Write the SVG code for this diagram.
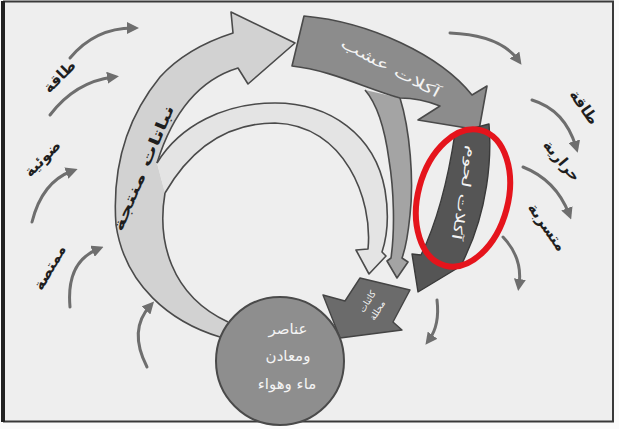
<svg xmlns="http://www.w3.org/2000/svg" width="619" height="429" viewBox="0 0 619 429">
<defs>
<style>
.lbl{font-family:"DejaVu Sans",sans-serif;font-weight:bold;font-size:15px;fill:#1e1e1e}
.band{stroke:none}
.edge{fill:none;stroke:#4a4a4a;stroke-width:1.6;stroke-linejoin:round}
.en{fill:none;stroke:#6e6e6e;stroke-width:3;stroke-linecap:round}
.wt{font-family:"DejaVu Sans",sans-serif;fill:#f4f4f4}
</style>
<marker id="ah" markerUnits="userSpaceOnUse" markerWidth="12" markerHeight="12" refX="6" refY="6" orient="auto">
<path d="M0,0 L12,6 L0,12 z" fill="#6e6e6e"/>
</marker>
</defs>
<rect x="0" y="0" width="619" height="429" fill="#fbfbfb"/>
<rect x="4" y="1.5" width="609" height="420" fill="#eeeeee" stroke="#3a3a3a" stroke-width="2"/>
<line x1="3" y1="1" x2="3" y2="422" stroke="#222" stroke-width="4"/>

<g id="connectors">
<path class="en" d="M70,58 Q95,28 133,28" marker-end="url(#ah)"/>
<path class="en" d="M50,115 Q75,82 113,77" marker-end="url(#ah)"/>
<path class="en" d="M32,222 Q42,182 72,171" marker-end="url(#ah)"/>
<path class="en" d="M70,307 Q66,262 98,249" marker-end="url(#ah)"/>
<path class="en" d="M147,367 Q128,330 150,306" marker-end="url(#ah)"/>
<path class="en" d="M450,33 Q500,35 518,60" marker-end="url(#ah)"/>
<path class="en" d="M532,100 Q565,110 576,147" marker-end="url(#ah)"/>
<path class="en" d="M523,167 Q556,180 569,214" marker-end="url(#ah)"/>
<path class="en" d="M503,237 Q523,258 519,285" marker-end="url(#ah)"/>
<path class="en" d="M437,300 Q440,325 429,340" marker-end="url(#ah)"/>
</g>

<g id="plants">
<path class="band" fill="#d2d2d2" d="M220,337 C170,322 125,285 116,225 C112,170 125,120 160,77 C180,55 205,42 233,33 L231,12 L295,43 L248,84 L238,68 C205,78 175,105 157,163 L165,193 C157,240 170,295 228,322 Z"/>
<path class="edge" d="M220,337 C170,322 125,285 116,225 C112,170 125,120 160,77 C180,55 205,42 233,33 L231,12 L295,43 L248,84 L238,68 C205,78 175,105 157,163"/>
<path class="edge" d="M165,193 C157,240 170,295 228,322"/>
<text class="lbl" font-size="17" fill="#2a2a2a" text-anchor="middle" transform="translate(148,170) rotate(-67)" textLength="135" lengthAdjust="spacingAndGlyphs">نباتات منتجة</text>
</g>

<g id="remains">
<path class="band" fill="#e4e4e4" d="M157,163 C180,125 225,103 275,103 C330,103 375,135 385,190 C390,220 386,240 382,252 L386,256 L369,274 L356,250 L368,249 C373,200 345,125 275,123 C225,123 190,150 165,193 Z"/>
<path class="edge" d="M157,163 C180,125 225,103 275,103 C330,103 375,135 385,190 C390,220 386,240 382,252 L386,256 L369,274 L356,250 L368,249 C373,200 345,125 275,123 C225,123 190,150 165,193"/>
</g>

<g id="herb-remains">
<path class="band" fill="#a4a4a4" d="M400,98 C410,130 414,180 410,215 C408,235 405,250 402,258 L408,262 L397,278 L387,261 L391,258 C395,230 394,190 389,160 C385,130 378,105 365,90 Z"/>
<path class="edge" d="M400,98 C410,130 414,180 410,215 C408,235 405,250 402,258 L408,262 L397,278 L387,261 L391,258 C395,230 394,190 389,160 C385,130 378,105 365,90"/>
</g>

<g id="herbivores">
<path fill="#8c8c8c" stroke="#4a4a4a" stroke-width="1.6" stroke-linejoin="round" d="M304,16 C370,22 440,55 472,95 L487,86 L479,130 L418,120 L440,106 C425,100 412,98 400,98 C365,88 330,70 292,66 Z"/>
<text class="wt" font-size="14" text-anchor="middle" transform="translate(388,72) rotate(28)" textLength="110" lengthAdjust="spacingAndGlyphs">آكلات عشب</text>
</g>

<g id="carnivores">
<path fill="#555555" stroke="#3a3a3a" stroke-width="1.4" stroke-linejoin="round" d="M455,133 L489,124 C492,160 487,210 466,255 L461,266 L418,292 L412,254 L421,255 C438,220 448,180 455,133 Z"/>
<text class="wt" font-size="13" text-anchor="middle" transform="translate(460,192) rotate(100)" textLength="95" lengthAdjust="spacingAndGlyphs">آكلات لحوم</text>
</g>

<g id="decomposers">
<path fill="#6b6b6b" stroke="#444" stroke-width="1.4" stroke-linejoin="round" d="M360,278 L410,290 L393,322 L402,330 L340,338 L323,295 L345,301 Z"/>
<text class="wt" font-size="9" text-anchor="middle" transform="translate(370,303) rotate(-58)">كائنات</text>
<text class="wt" font-size="9" text-anchor="middle" transform="translate(380,312) rotate(-58)">محللة</text>
</g>

<g id="elements">
<circle cx="280" cy="361" r="64" fill="#8e8e8e" stroke="#4a4a4a" stroke-width="2"/>
<text class="wt" font-size="15" text-anchor="middle" x="288" y="334">عناصر</text>
<text class="wt" font-size="15" text-anchor="middle" x="288" y="361">ومعادن</text>
<text class="wt" font-size="15" text-anchor="middle" x="287" y="389">ماء وهواء</text>
</g>

<g id="labels">
<text class="lbl" text-anchor="middle" transform="translate(63,80) rotate(-45)">طاقة</text>
<text class="lbl" text-anchor="middle" transform="translate(46,162) rotate(-45)">ضوئية</text>
<text class="lbl" text-anchor="middle" transform="translate(54,270) rotate(-60)">ممتصة</text>
<text class="lbl" text-anchor="middle" transform="translate(580,110) rotate(55)">طاقة</text>
<text class="lbl" text-anchor="middle" transform="translate(558,164) rotate(50)">حرارية</text>
<text class="lbl" text-anchor="middle" transform="translate(543,230) rotate(55)">متسربة</text>
</g>

<g id="highlight">
<ellipse cx="463" cy="198" rx="45" ry="70" transform="rotate(15 463 198)" fill="none" stroke="#e5141c" stroke-width="6"/>
</g>
</svg>
